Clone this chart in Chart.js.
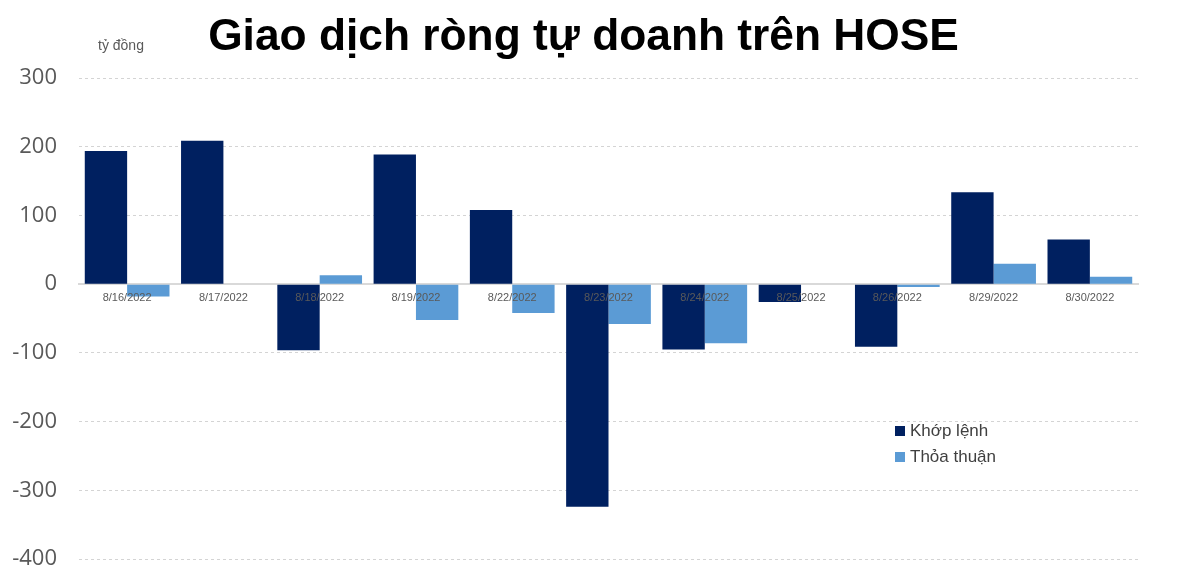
<!DOCTYPE html>
<html>
<head>
<meta charset="utf-8">
<script src="https://cdn.jsdelivr.net/npm/chart.js@4.4.0/dist/chart.umd.min.js"></script>
<style>
  html, body { margin: 0; padding: 0; background: #fff; }
  #wrap { position: relative; width: 1200px; height: 580px; }
  #unit { position: absolute; left: 98px; top: 37px; font: 14px "Liberation Sans", Arial, sans-serif; color: #595959; }
  #legend { position: absolute; left: 895px; top: 418px; font: 17px "Liberation Sans", Arial, sans-serif; color: #404040; }
  #legend div { height: 26px; line-height: 26px; }
  #legend span.box { display: inline-block; width: 10px; height: 10px; margin-right: 5px; }
</style>
</head>
<body>
<div id="wrap">
  <canvas id="chart" width="1200" height="580"></canvas>
  <div id="unit">tỷ đồng</div>
  <div id="legend"></div>
</div>
<script>
const labels = ['8/16/2022', '8/17/2022', '8/18/2022', '8/19/2022', '8/22/2022', '8/23/2022',
                '8/24/2022', '8/25/2022', '8/26/2022', '8/29/2022', '8/30/2022'];
const khopLenh = [194, 209, -96, 189, 108, -324, -95, -26, -91, 134, 65];
const thoaThuan = [-18, 0, 13, -52, -42, -58, -86, 0, -4, 30, 11];
const yTicks = [-400, -300, -200, -100, 0, 100, 200, 300];

var ctx = document.getElementById('chart');
var chart = new Chart(ctx, {
    type: 'bar',
    data: {
        labels: labels,
        datasets: [
            { label: 'Khớp lệnh', data: khopLenh, backgroundColor: '#002060' },
            { label: 'Thỏa thuận', data: thoaThuan, backgroundColor: '#5b9bd5' }
        ]
    },
    options: {
        responsive: false,
        animation: false,
        layout: { padding: { left: 0, right: 33, top: 0, bottom: 21 } },
        datasets: { bar: { categoryPercentage: 0.88, barPercentage: 1.0 } },
        scales: {
            x: {
                position: { y: 0 },
                afterFit: (s) => { s.height = 0; },   // axis sits on zero line, takes no room
                grid: { display: false, drawTicks: false },
                border: { display: true, color: '#d9d9d9', width: 2, z: 0 },
                ticks: {
                    z: 1,
                    color: '#595959',
                    padding: 7,
                    maxRotation: 0,
                    font: { size: 11, family: 'Liberation Sans' }
                }
            },
            y: {
                min: yTicks[0],
                max: yTicks[yTicks.length - 1],
                afterFit: (s) => {
                    s.width = 79;
                    // tick padding is only horizontal room here, don't let it push the plot
                    s.paddingTop = 13;
                    s.paddingBottom = 13;
                },
                afterBuildTicks: (s) => { s.ticks = yTicks.map(v => ({ value: v })); },
                border: { display: false, dash: [3, 3] },
                grid: { color: '#d4d4d4', lineWidth: 1, drawTicks: false },
                ticks: {
                    color: '#595959',
                    padding: 22,
                    font: { size: 22, family: 'Open Sans' }
                }
            },
            // empty right-hand spacer so the title centres like the original
            y2: {
                position: 'right',
                display: true,
                afterFit: (s) => { s.width = 29; },
                grid: { display: false },
                border: { display: false },
                ticks: { display: false }
            }
        },
        plugins: {
            legend: { display: false },
            tooltip: { enabled: false },
            title: {
                display: true,
                text: 'Giao dịch ròng tự doanh trên HOSE',
                color: '#000',
                font: { size: 44.3, weight: 'bold', family: 'Liberation Sans' },
                padding: { top: 11, bottom: 14 }
            }
        }
    }
});

// legend built from datasets
let leg = document.getElementById('legend');
for (let ds of chart.data.datasets) {
    leg.innerHTML += `<div><span class="box" style="background:${ds.backgroundColor}"></span>${ds.label}</div>`;
}
</script>
</body>
</html>
